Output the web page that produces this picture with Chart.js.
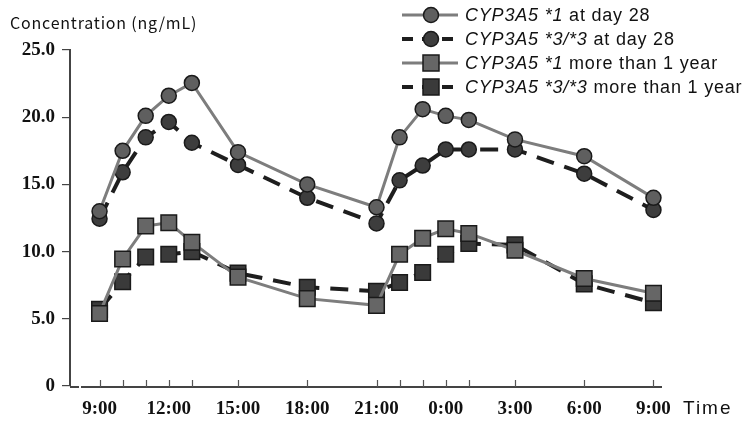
<!DOCTYPE html>
<html>
<head>
<meta charset="utf-8">
<script src="https://cdn.jsdelivr.net/npm/chart.js@4"></script>
<style>
  html, body { margin: 0; padding: 0; background: #fff; }
  #wrap { position: relative; width: 742px; height: 423px; }
  #yTitle { position: absolute; left: 10px; top: 10px; font: 16px "Noto Sans CJK JP", "DejaVu Sans", sans-serif; letter-spacing: 0.8px; color: #111; white-space: nowrap; }
  #xTitle { position: absolute; left: 683px; top: 397px; font: 19px "Liberation Sans", sans-serif; letter-spacing: 2px; color: #111; }
  #legend { position: absolute; left: 400px; top: 3px; font: 18px "Liberation Sans", sans-serif; letter-spacing: 0.8px; color: #111; }
  #legend .row { display: flex; align-items: center; height: 24px; white-space: nowrap; }
  #legend svg { margin-right: 7px; }
</style>
</head>
<body>
<div id="wrap">
  <canvas id="chart" width="742" height="423"></canvas>
  <div id="yTitle">Concentration (ng/mL)</div>
  <div id="xTitle">Time</div>
  <div id="legend"></div>
</div>
<script>
// hours after 9:00 on the first day
const hours = [0, 1, 2, 3, 4, 6, 9, 12, 13, 14, 15, 16, 18, 21, 24];
const tickHours = [0, 3, 6, 9, 12, 15, 18, 21, 24];
const tickLabels = ['9:00', '12:00', '15:00', '18:00', '21:00', '0:00', '3:00', '6:00', '9:00'];
const yTicks = [0, 5, 10, 15, 20, 25];

const star1Day28 = [13.0, 17.5, 20.1, 21.6, 22.55, 17.4, 15.0, 13.3, 18.5, 20.6, 20.1, 19.8, 18.35, 17.1, 14.0];
const star33Day28 = [12.45, 15.9, 18.5, 19.65, 18.1, 16.45, 14.0, 12.1, 15.3, 16.4, 17.6, 17.6, 17.6, 15.8, 13.1];
const star1Year = [5.4, 9.45, 11.9, 12.15, 10.7, 8.1, 6.5, 6.0, 9.8, 11.0, 11.7, 11.35, 10.1, 8.0, 6.9];
const star33Year = [5.7, 7.75, 9.6, 9.8, 10.0, 8.4, 7.35, 7.05, 7.7, 8.45, 9.8, 10.6, 10.5, 7.6, 6.2];

const series = [
  { gene: '*1', rest: ' at day 28', values: star1Day28, line: '#7d7d7d', fill: '#5f5f5f', dash: [], width: 3, shape: 'circle' },
  { gene: '*3/*3', rest: ' at day 28', values: star33Day28, line: '#1e1e1e', fill: '#3d3d3d', dash: [18, 11], width: 4, shape: 'circle' },
  { gene: '*1', rest: ' more than 1 year', values: star1Year, line: '#7d7d7d', fill: '#666666', dash: [], width: 3, shape: 'rect' },
  { gene: '*3/*3', rest: ' more than 1 year', values: star33Year, line: '#1e1e1e', fill: '#3a3a3a', dash: [18, 11], width: 4, shape: 'rect' }
];

const serif = '"Liberation Serif", "Times New Roman", serif';

// x axis line (with the small break at the corner) and inward ticks at each sampling time
const axisPlugin = {
  id: 'axisLines',
  beforeDatasetsDraw(chart) {
    const { ctx, chartArea, scales } = chart;
    const y = chartArea.bottom + 1;
    ctx.save();
    ctx.strokeStyle = '#444';
    ctx.lineWidth = 2;
    ctx.beginPath();
    ctx.moveTo(chartArea.left, y);
    ctx.lineTo(chartArea.left + 9, y);
    ctx.moveTo(chartArea.left + 11, y);
    ctx.lineTo(chartArea.right, y);
    ctx.stroke();
    ctx.lineWidth = 1.2;
    ctx.strokeStyle = '#555';
    ctx.beginPath();
    hours.forEach(h => {
      const x = Math.round(scales.x.getPixelForValue(h)) + 0.5;
      ctx.moveTo(x, y);
      ctx.lineTo(x, y - 7);
    });
    ctx.stroke();
    ctx.restore();
  }
};

new Chart(document.getElementById('chart'), {
  type: 'line',
  data: {
    datasets: series.map(s => ({
      data: hours.map((h, i) => ({ x: h, y: s.values[i] })),
      borderColor: s.line,
      borderWidth: s.width,
      borderDash: s.dash,
      pointStyle: s.shape,
      pointRadius: s.shape === 'rect' ? 11 : 7.5,
      pointBackgroundColor: s.fill,
      pointBorderColor: '#1a1a1a',
      pointBorderWidth: 1.5,
      tension: 0
    }))
  },
  options: {
    responsive: false,
    animation: false,
    layout: { padding: { top: 50, right: 80, left: 0, bottom: 0 } },
    plugins: { legend: { display: false }, tooltip: { enabled: false } },
    scales: {
      x: {
        type: 'linear',
        min: -1.28,
        max: 24.37,
        border: { display: false },
        grid: { display: false, drawTicks: false },
        afterFit: scale => { scale.height = 37; },
        afterBuildTicks: scale => { scale.ticks = tickHours.map(v => ({ value: v })); },
        ticks: {
          padding: 12,
          color: '#111',
          font: { family: serif, size: 19, weight: 'bold' },
          callback: v => tickLabels[tickHours.indexOf(v)]
        }
      },
      y: {
        min: 0,
        max: 25,
        border: { display: true, color: '#444', width: 2 },
        grid: { drawOnChartArea: false, drawTicks: true, tickLength: 8, color: '#444', lineWidth: 1.2 },
        afterFit: scale => { scale.width = 70; },
        afterBuildTicks: scale => { scale.ticks = yTicks.map(v => ({ value: v })); },
        ticks: {
          padding: 7,
          color: '#111',
          font: { family: serif, size: 19, weight: 'bold' },
          callback: v => v === 0 ? '0' : v.toFixed(1)
        }
      }
    }
  },
  plugins: [axisPlugin]
});

// legend with the italic genotype names
const legend = document.getElementById('legend');
series.forEach(s => {
  const row = document.createElement('div');
  row.className = 'row';
  const dash = s.dash.length ? 'stroke-dasharray="11 9"' : '';
  const mark = s.shape === 'circle'
    ? `<circle cx="31" cy="10" r="7.5" fill="${s.fill}" stroke="#1a1a1a" stroke-width="1.5"/>`
    : `<rect x="23" y="2" width="16" height="16" fill="${s.fill}" stroke="#1a1a1a" stroke-width="1.5"/>`;
  row.innerHTML =
    `<svg width="58" height="20"><line x1="2" y1="10" x2="58" y2="10" stroke="${s.line}" stroke-width="${s.width}" ${dash}/>${mark}</svg>` +
    `<span><i>CYP3A5 ${s.gene}</i>${s.rest}</span>`;
  legend.appendChild(row);
});
</script>
</body>
</html>
